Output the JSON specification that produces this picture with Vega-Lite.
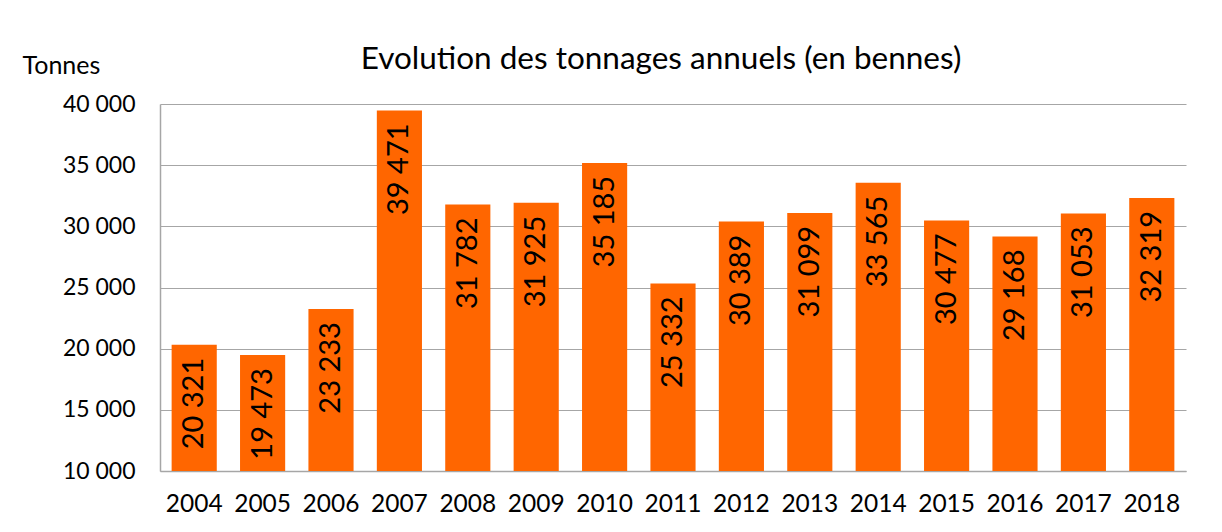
{
  "$schema": "https://vega.github.io/schema/vega-lite/v6.json",
  "autosize": "none",
  "width": 1026,
  "height": 367,
  "padding": {"left": 160, "top": 104, "right": 36, "bottom": 61},
  "background": "white",
  "title": {
    "text": "Evolution des tonnages annuels (en bennes)",
    "font": "Lato",
    "fontSize": 31.5,
    "fontWeight": "normal",
    "color": "#000000",
    "anchor": "middle",
    "frame": "group",
    "dx": -12,
    "dy": 26
  },
  "data": {
    "values": [
      {"annee": "2004", "tonnes": 20321},
      {"annee": "2005", "tonnes": 19473},
      {"annee": "2006", "tonnes": 23233},
      {"annee": "2007", "tonnes": 39471},
      {"annee": "2008", "tonnes": 31782},
      {"annee": "2009", "tonnes": 31925},
      {"annee": "2010", "tonnes": 35185},
      {"annee": "2011", "tonnes": 25332},
      {"annee": "2012", "tonnes": 30389},
      {"annee": "2013", "tonnes": 31099},
      {"annee": "2014", "tonnes": 33565},
      {"annee": "2015", "tonnes": 30477},
      {"annee": "2016", "tonnes": 29168},
      {"annee": "2017", "tonnes": 31053},
      {"annee": "2018", "tonnes": 32319}
    ]
  },
  "encoding": {
    "x": {
      "field": "annee",
      "type": "ordinal",
      "scale": {"paddingInner": 0.34, "paddingOuter": 0.17},
      "axis": {
        "title": null,
        "labelAngle": 0,
        "labelFont": "Lato",
        "labelFontSize": 24.5,
        "labelColor": "#000000",
        "labelPadding": 21,
        "ticks": false,
        "domainColor": "#a6a6a6",
        "domainWidth": 1.5
      }
    },
    "y": {
      "field": "tonnes",
      "type": "quantitative",
      "scale": {"domain": [10000, 40000], "nice": false, "zero": false},
      "axis": {
        "title": "Tonnes",
        "titleAngle": 0,
        "titleFont": "Lato",
        "titleFontSize": 25,
        "titleFontWeight": "normal",
        "titleColor": "#000000",
        "titleAlign": "left",
        "titleBaseline": "alphabetic",
        "titleX": -138,
        "titleY": -31,
        "values": [10000, 15000, 20000, 25000, 30000, 35000, 40000],
        "format": ",.0f",
        "labelFont": "Lato",
        "labelFontSize": 23,
        "labelColor": "#000000",
        "labelPadding": 25,
        "ticks": false,
        "grid": true,
        "gridColor": "#a6a6a6",
        "gridWidth": 1.2,
        "domainColor": "#a6a6a6",
        "domainWidth": 1.5
      }
    }
  },
  "layer": [
    {"mark": {"type": "bar", "color": "#FF6600", "clip": true}},
    {
      "mark": {
        "type": "text",
        "angle": 270,
        "align": "right",
        "baseline": "middle",
        "dx": -13,
        "font": "Lato",
        "fontSize": 29,
        "color": "#000000"
      },
      "encoding": {
        "text": {"field": "tonnes", "type": "quantitative", "format": ",.0f"}
      }
    }
  ],
  "config": {
    "view": {"stroke": null},
    "locale": {
      "number": {"decimal": ",", "thousands": " ", "grouping": [3], "currency": ["", " €"]}
    }
  }
}
